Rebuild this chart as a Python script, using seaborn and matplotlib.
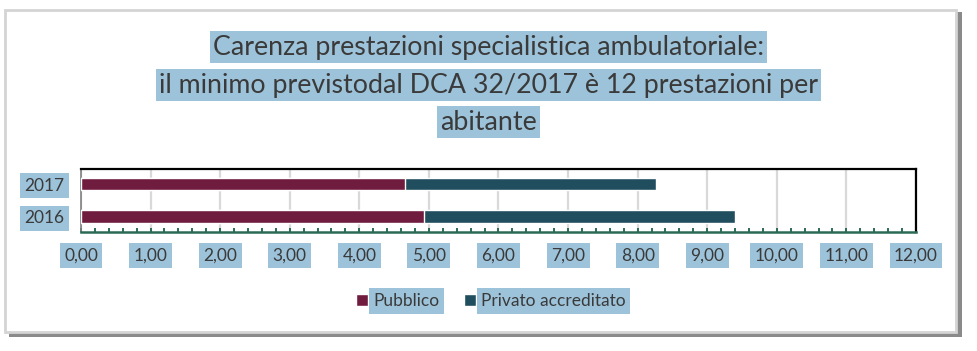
import matplotlib
matplotlib.use("Agg")
import matplotlib.pyplot as plt
import seaborn as sns
import pandas as pd
from matplotlib.ticker import MultipleLocator, FuncFormatter
from matplotlib.patches import Rectangle, Patch

years = ["2017", "2016"]
pubblico = [4.66, 4.93]
privato = [3.61, 4.47]
title_lines = ["Carenza prestazioni specialistica ambulatoriale:",
               "il minimo previstodal DCA 32/2017 è 12 prestazioni per",
               "abitante"]
series_names = ["Pubblico", "Privato accreditato"]

C_PUB = "#701C3F"
C_PRI = "#214E5F"
HL = "#9DC3DA"
TXT = "#3A3A3A"

sns.set_theme(style="white")
plt.rcParams["font.family"] = ["Lato", "DejaVu Sans"]

fig = plt.figure(figsize=(9.78, 3.51), dpi=100)
W, H = 978, 351

# outer frame with shadow
fig.patches.append(Rectangle((9 / W, 1 - 337 / H), 953 / W, 325 / H, transform=fig.transFigure,
                             facecolor="#8A8A8A", edgecolor="none", zorder=0))
fig.patches.append(Rectangle((5 / W, 1 - 332 / H), 951 / W, 322 / H, transform=fig.transFigure,
                             facecolor="white", edgecolor="#D4D4D4", linewidth=2, zorder=1))

ax = fig.add_axes([81 / W, 1 - 232 / H, (916 - 81) / W, (232 - 169) / H])
ax.set_zorder(2)

df = pd.DataFrame({"year": years, "pub": pubblico, "pri": privato})
df["tot"] = df["pub"] + df["pri"]

sns.barplot(data=df, x="tot", y="year", order=years, color=C_PRI, width=0.39,
            saturation=1, ax=ax, orient="h", zorder=3)
sns.barplot(data=df, x="pub", y="year", order=years, color=C_PUB, width=0.39,
            saturation=1, ax=ax, orient="h", zorder=4)

ax.set_xlim(0, 12)
ax.set_ylim(1.47, -0.46)
ax.set_xlabel("")
ax.set_ylabel("")
ax.xaxis.set_major_locator(MultipleLocator(1))
ax.xaxis.set_minor_locator(MultipleLocator(0.2))
ax.xaxis.set_major_formatter(FuncFormatter(lambda v, p: f"{v:.2f}".replace(".", ",")))
ax.grid(axis="x", which="major", color="#D9D9D9", linewidth=1.6, zorder=0)
ax.set_axisbelow(True)

green = "#2B6B55"
ax.tick_params(axis="x", which="both", direction="in", color=green, width=1.4, bottom=True,
               labelsize=12.5, labelcolor=TXT)
ax.tick_params(axis="x", which="major", length=3, pad=11)
ax.tick_params(axis="x", which="minor", length=3)
ax.tick_params(axis="y", length=0, pad=12, labelsize=12.5, labelcolor=TXT)

for s in ["top", "right"]:
    ax.spines[s].set_color("black")
    ax.spines[s].set_linewidth(1.6)
ax.spines["bottom"].set_color(green)
ax.spines["bottom"].set_linewidth(1.8)
ax.spines["left"].set_color("#808080")
ax.spines["left"].set_linewidth(1.2)

for lbl in ax.get_xticklabels() + ax.get_yticklabels():
    lbl.set_bbox(dict(facecolor=HL, edgecolor="none", pad=3.2))

# title lines
ys = [47, 85, 122]
for line, yy in zip(title_lines, ys):
    fig.text(0.4995, 1 - yy / H, line, ha="center", va="center", fontsize=19.3, color=TXT,
             bbox=dict(facecolor=HL, edgecolor="none", pad=2.5), zorder=5)

handles = [Patch(facecolor=C_PUB), Patch(facecolor=C_PRI)]
leg = fig.legend(handles, series_names, loc="center", bbox_to_anchor=(491 / W, 1 - 301 / H),
                 ncol=2, frameon=False, fontsize=12.5, handlelength=0.7, handleheight=0.7,
                 handletextpad=0.3, columnspacing=1.4)
for t in leg.get_texts():
    t.set_color(TXT)
    t.set_bbox(dict(facecolor=HL, edgecolor="none", pad=3.2))

fig.savefig("out.png", dpi=100)
